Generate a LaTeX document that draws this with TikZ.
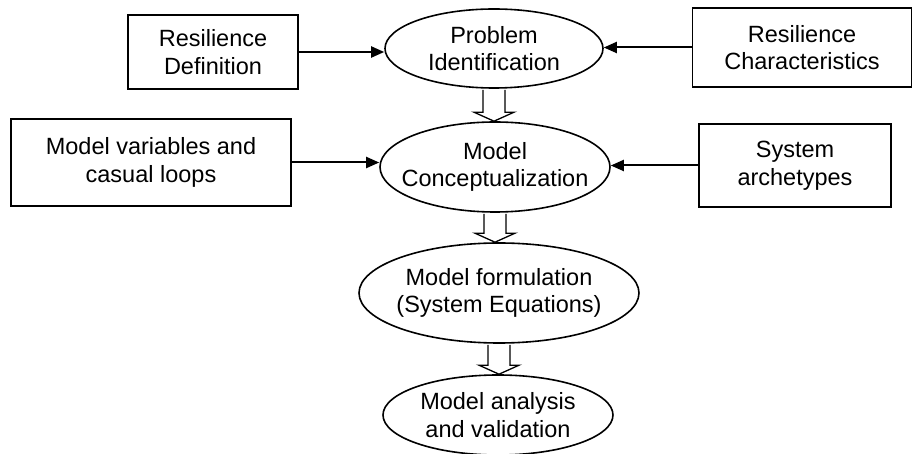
\documentclass[tikz,border=0pt]{standalone}
\usepackage{fontspec}
\setmainfont{Liberation Sans}
\usetikzlibrary{shapes.geometric,arrows.meta,calc}
\begin{document}
\begin{tikzpicture}[x=1pt,y=1pt,
  txt/.style={font=\fontsize{23.5}{27.5}\selectfont, align=center},
  boxnode/.style={txt, draw, rectangle, line width=1.6pt, inner sep=0pt},
  ellnode/.style={txt, draw, ellipse, line width=1.6pt, inner xsep=-15pt, inner ysep=-5pt},
  conn/.style={line width=2pt, -{Triangle[length=13pt,width=11pt]}},
  blockarr/.style={draw, line width=1.3pt, fill=white, line join=miter}]
\useasboundingbox (0,0) rectangle (914,-454);

% nodes
\node[boxnode, minimum width=170pt, minimum height=74pt] (rd) at (213,-52) {Resilience\\Definition};
\node[ellnode, minimum width=218pt, minimum height=79pt] (pi) at (494,-48.5) {Problem\\Identification};
\node[boxnode, minimum width=219pt, minimum height=79pt] (rc) at (802,-47.5) {Resilience\\Characteristics};

\node[boxnode, minimum width=280pt, minimum height=87pt] (mv) at (151,-162.5) {Model variables and\\casual loops};
\node[ellnode, minimum width=230pt, minimum height=90pt] (mc) at (495,-167) {Model\\Conceptualization};
\node[boxnode, minimum width=192pt, minimum height=83pt] (sa) at (795,-165.5) {System\\archetypes};

\node[ellnode, minimum width=280pt, minimum height=100pt] (mf) at (499,-293) {Model formulation\\(System Equations)};
\node[ellnode, minimum width=230pt, minimum height=80pt] (ma) at (498,-415) {Model analysis\\and validation};

% connectors
\draw[conn] (rd.east) -- (rd.east -| pi.west);
\draw[conn] (rc.west) -- (rc.west -| pi.east);
\draw[conn] (mv.east) -- (mv.east -| mc.west);
\draw[conn] (sa.west) -- (sa.west -| mc.east);

% block arrows
\draw[blockarr] ($(pi.south)+(-11,-1)$) -- ($(pi.south |- mc.north)+(-11,9)$) -- ++(-9,0)
  -- (pi.south |- mc.north) -- ++(20,9) -- ++(-9,0) -- ($(pi.south)+(11,-1)$);
\draw[blockarr] ($(mc.south)+(-11,-1)$) -- ($(mc.south |- mf.north)+(-11,9)$) -- ++(-9,0)
  -- (mc.south |- mf.north) -- ++(20,9) -- ++(-9,0) -- ($(mc.south)+(11,-1)$);
\draw[blockarr] ($(mf.south)+(-11,-1)$) -- ($(mf.south |- ma.north)+(-11,9)$) -- ++(-9,0)
  -- (mf.south |- ma.north) -- ++(20,9) -- ++(-9,0) -- ($(mf.south)+(11,-1)$);
\end{tikzpicture}
\end{document}
